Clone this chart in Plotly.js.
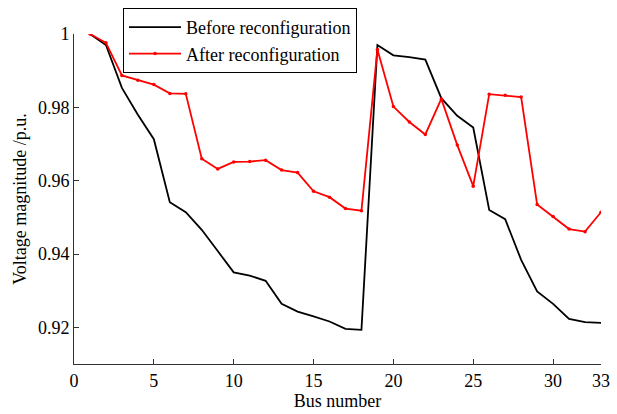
<!DOCTYPE html>
<html>
<head>
<meta charset="utf-8">
<script src="https://cdn.plot.ly/plotly-3.0.1.min.js"></script>
<style>html,body{margin:0;padding:0;background:#fff;}#chart{width:617px;height:414px;}</style>
</head>
<body>
<div id="chart"></div>
<script>
const buses = [1,2,3,4,5,6,7,8,9,10,11,12,13,14,15,16,17,18,19,20,21,22,23,24,25,26,27,28,29,30,31,32,33];
const before = [1.0,0.9970,0.9853,0.9780,0.9713,0.9541,0.9514,0.9466,0.9408,0.9350,0.9341,0.9327,0.9264,0.9243,0.9230,0.9216,0.9196,0.9193,
  0.9970,0.9942,0.9937,0.9930,0.9825,0.9777,0.9745,0.9520,0.9495,0.9384,0.9298,0.9264,0.9223,0.9214,0.9212];
const after = [1.0,0.9976,0.9887,0.9874,0.9862,0.9838,0.9837,0.9660,0.9632,0.9651,0.9652,0.9656,0.9629,0.9622,0.9571,0.9555,0.9524,0.9518,
  0.9958,0.9802,0.9760,0.9726,0.9823,0.9697,0.9585,0.9836,0.9833,0.9828,0.9535,0.9502,0.9468,0.9461,0.9514];
const xTicks = [0,5,10,15,20,25,30,33];
const yTicks = [0.92,0.94,0.96,0.98,1];

const font = {family: 'Liberation Serif, Times New Roman, serif', size: 18, color: '#000'};

const traces = [
  {x: buses, y: before, type: 'scatter', mode: 'lines', name: 'Before reconfiguration',
   line: {color: '#000000', width: 1.8}},
  {x: buses, y: after, type: 'scatter', mode: 'lines+markers', name: 'After reconfiguration',
   line: {color: '#ff0000', width: 1.8}, marker: {color: '#ff0000', size: 3.5}}
];

const layout = {
  width: 617, height: 414,
  margin: {l: 74, r: 16, t: 34, b: 50, autoexpand: false},
  paper_bgcolor: '#fff', plot_bgcolor: '#fff',
  font: font,
  showlegend: true,
  legend: {x: 0.093, y: 1.079, xanchor: 'left', yanchor: 'top', bgcolor: '#fff',
    bordercolor: '#000', borderwidth: 1, font: font, tracegroupgap: 0, itemwidth: 52},
  xaxis: {range: [0, 33], tickvals: xTicks, ticktext: xTicks.map(String),
    ticks: 'inside', ticklen: 5, tickcolor: '#333', showgrid: false, zeroline: false,
    showline: true, linecolor: '#333', linewidth: 1, tickfont: font, automargin: false,
    title: {text: 'Bus number', font: font, standoff: 2}},
  yaxis: {range: [0.91, 1.0], tickvals: yTicks, ticktext: ['0.92','0.94','0.96','0.98','1'],
    ticks: 'inside', ticklen: 5, tickcolor: '#333', showgrid: false, zeroline: false,
    showline: true, linecolor: '#333', linewidth: 1, tickfont: font, automargin: false,
    title: {text: 'Voltage magnitude /p.u.', font: font, standoff: 6}}
};

Plotly.newPlot('chart', traces, layout, {displayModeBar: false, staticPlot: true});
</script>
</body>
</html>
